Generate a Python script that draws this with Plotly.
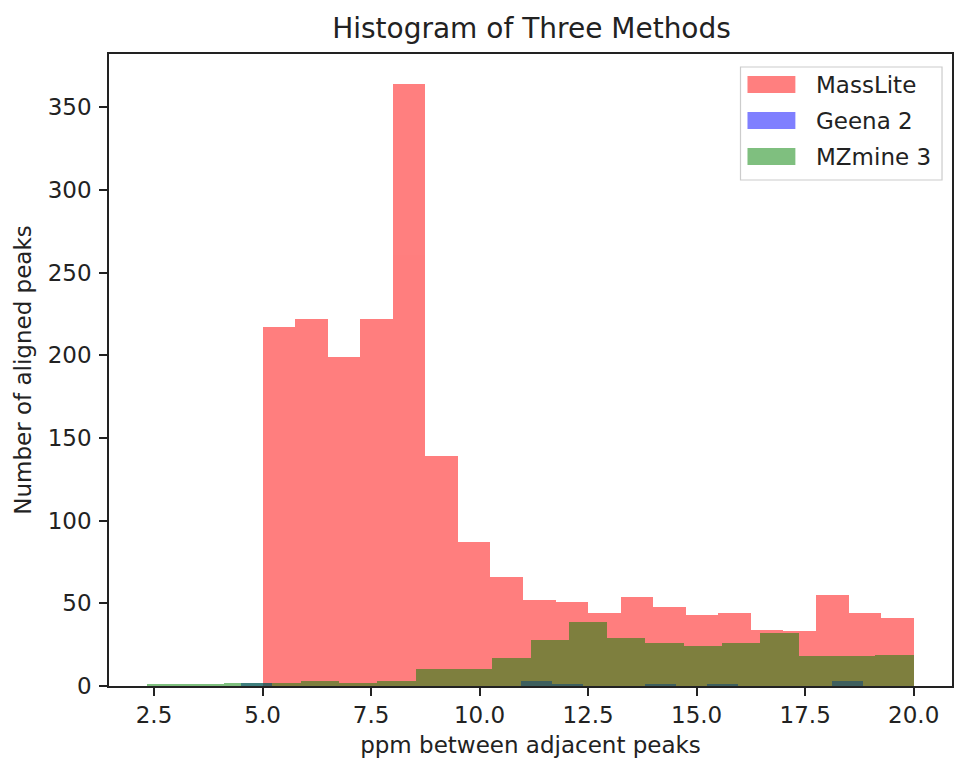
import numpy as np
import plotly.graph_objects as go

# ---- data ----
n_bins = 20
masslite_range = (5.0, 20.0)
masslite_counts = [217, 222, 199, 222, 364, 139, 87, 66, 52, 51,
                   44, 54, 48, 43, 44, 34, 33, 55, 44, 41]
geena_range = (4.495, 18.83)
geena_counts = [2, 0, 0, 0, 0, 0, 0, 0, 0, 3,
                1, 0, 0, 1, 0, 1, 0, 0, 0, 3]
mzmine_range = (2.346, 20.0)
mzmine_counts = [1, 1, 2, 2, 3, 2, 3, 10, 10, 17,
                 28, 39, 29, 26, 24, 26, 32, 18, 18, 19]

series_names = ["MassLite", "Geena 2", "MZmine 3"]
series_colors = ["#FF0000", "#0000FF", "#008000"]
x_ticks = [2.5, 5.0, 7.5, 10.0, 12.5, 15.0, 17.5, 20.0]
y_ticks = [0, 50, 100, 150, 200, 250, 300, 350]

FONT = "DejaVu Sans"
FS = 23
W, H = 954, 758
L, R, T, B = 109, 954, 54, 686  # plot area in pixels

fig = go.Figure()
series = [(masslite_range, masslite_counts), (geena_range, geena_counts), (mzmine_range, mzmine_counts)]
for (rng, counts), name, color in zip(series, series_names, series_colors):
    edges = np.linspace(rng[0], rng[1], n_bins + 1)
    fig.add_trace(go.Bar(
        x=edges[:-1], y=counts, width=np.diff(edges), offset=0,
        name=name, marker=dict(color=color, line=dict(width=0)),
        opacity=0.5, showlegend=False,
    ))

lo = min(r[0] for r, _ in series)
hi = max(r[1] for r, _ in series)
pad = 0.05 * (hi - lo)
ymax = max(max(c) for _, c in series) * 1.05

axis_common = dict(
    showline=True, linecolor="#222222", linewidth=1.6, mirror=True,
    ticks="outside", ticklen=8, tickwidth=1.6, tickcolor="#222222",
    showgrid=False, zeroline=False,
    tickfont=dict(family=FONT, size=FS, color="#222222"),
)

fig.update_layout(
    width=W, height=H,
    margin=dict(l=L, r=W - R, t=T, b=H - B),
    paper_bgcolor="white", plot_bgcolor="white",
    barmode="overlay", bargap=0,
    title=dict(text="Histogram of Three Methods", x=(L + R) / 2 / W, xanchor="center",
               y=1 - 28 / H, yanchor="middle", yref="container",
               font=dict(family=FONT, size=28, color="#222222")),
    xaxis=dict(range=[lo - pad, hi + pad], tickvals=x_ticks,
               ticktext=[f"{v:.1f}" for v in x_ticks],
               title=dict(text="ppm between adjacent peaks", standoff=9,
                          font=dict(family=FONT, size=FS, color="#222222")),
               **axis_common),
    yaxis=dict(range=[0, ymax], tickvals=y_ticks, ticklabelstandoff=3,
               title=dict(text="Number of aligned peaks", standoff=10,
                          font=dict(family=FONT, size=FS, color="#222222")),
               **axis_common),
)

# ---- legend drawn like matplotlib's (patch + label in a framed box) ----
def px_x(p):
    return (p - L) / (R - L)

def px_y(p):
    return (B - p) / (B - T)

fig.add_shape(type="rect", xref="paper", yref="paper",
              x0=px_x(742), x1=px_x(944), y0=px_y(180), y1=px_y(67),
              line=dict(color="#CCCCCC", width=1.2), fillcolor="rgba(255,255,255,0.8)")
row_centers = [84.5, 120.5, 156.5]
for name, color, cy in zip(series_names, series_colors, row_centers):
    fig.add_shape(type="rect", xref="paper", yref="paper",
                  x0=px_x(749), x1=px_x(797), y0=px_y(cy + 8.5), y1=px_y(cy - 8.5),
                  line=dict(width=0), fillcolor=color, opacity=0.5)
    fig.add_annotation(xref="paper", yref="paper", x=px_x(816), y=px_y(cy),
                       xanchor="left", yanchor="middle", showarrow=False, text=name,
                       font=dict(family=FONT, size=FS, color="#222222"))

fig.write_html("out.html")
